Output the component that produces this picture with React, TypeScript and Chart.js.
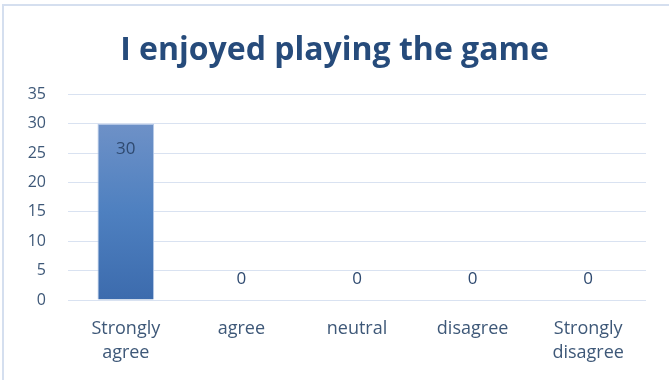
import React, { useEffect, useRef } from "react";
import { Chart, registerables } from "chart.js";

Chart.register(...registerables);

const title = "I enjoyed playing the game";
const categories: string[][] = [
  ["Strongly", "agree"],
  ["agree"],
  ["neutral"],
  ["disagree"],
  ["Strongly", "disagree"],
];
const values: number[] = [30, 0, 0, 0, 0];
const yMax = 35;
const yStep = 5;

const FONT = "'Open Sans', 'DejaVu Sans', sans-serif";
const TEXT = "#3E5878";
const GRID = "#D9E2F1";

const frame = {
  id: "frame",
  beforeDraw(chart: any) {
    const c = chart.ctx;
    c.save();
    c.fillStyle = "#ffffff";
    c.fillRect(0, 0, chart.width, chart.height);
    c.strokeStyle = "#D5DFEF";
    c.lineWidth = 2;
    c.beginPath();
    c.moveTo(3, chart.height);
    c.lineTo(3, 5);
    c.lineTo(chart.width, 5);
    c.stroke();
    c.restore();
  },
};

const dataLabels = {
  id: "dataLabels",
  afterDatasetsDraw(chart: any) {
    const c = chart.ctx;
    const meta = chart.getDatasetMeta(0);
    const ds = chart.data.datasets[0];
    c.save();
    c.font = `17px ${FONT}`;
    c.fillStyle = "#2F4A70";
    c.textAlign = "center";
    c.textBaseline = "middle";
    meta.data.forEach((el: any, i: number) => {
      const v = ds.data[i] as number;
      const y = v > 0 ? el.y + 25 : el.base - 21;
      c.fillText(String(v), el.x, y);
    });
    c.restore();
  },
};

export default function App() {
  const ref = useRef<HTMLCanvasElement | null>(null);
  useEffect(() => {
    if (!ref.current) return;
    const chart = new Chart(ref.current, {
      type: "bar",
      data: {
        labels: categories,
        datasets: [
          {
            data: values,
            backgroundColor: (ctx: any) => {
              const ch = ctx.chart;
              const ys = ch.scales?.y;
              if (!ys) return "#4F7FBF";
              const top = ys.getPixelForValue(Math.max(...values));
              const bot = ys.getPixelForValue(0);
              if (!isFinite(top) || !isFinite(bot) || top === bot) return "#4F7FBF";
              const g = ch.ctx.createLinearGradient(0, top, 0, bot);
              g.addColorStop(0, "#6E91C7");
              g.addColorStop(0.5, "#4E80C0");
              g.addColorStop(1, "#3C6BAD");
              return g;
            },
            borderColor: "#B9CCEA",
            borderWidth: 1,
            barPercentage: 0.49,
            categoryPercentage: 1,
          },
        ],
      },
      options: {
        animation: false,
        responsive: false,
        layout: { padding: 0 },
        plugins: {
          legend: { display: false },
          tooltip: { enabled: false },
          title: {
            display: true,
            text: title,
            color: "#264B7B",
            font: { family: FONT, size: 32, weight: "bold" },
            padding: { top: 32, bottom: 24 },
          },
        },
        scales: {
          x: {
            grid: { display: false, drawTicks: false },
            border: { display: false },
            ticks: {
              color: TEXT,
              font: { family: FONT, size: 18, lineHeight: 1.33 },
              padding: 17,
              maxRotation: 0,
              autoSkip: false,
            },
            afterFit(s: any) {
              s.height = 80;
            },
          },
          y: {
            min: 0,
            max: yMax,
            ticks: {
              stepSize: yStep,
              color: TEXT,
              font: { family: FONT, size: 16 },
              padding: 22,
            },
            grid: { color: GRID, lineWidth: 1, drawTicks: false },
            border: { display: false },
            afterFit(s: any) {
              s.width = 68;
            },
          },
          yRight: {
            type: "linear",
            position: "right",
            min: 0,
            max: 1,
            grid: { display: false, drawTicks: false },
            border: { display: false },
            ticks: { display: false },
            afterFit(s: any) {
              s.width = 23;
            },
          },
        },
      },
      plugins: [frame, dataLabels],
    });
    return () => chart.destroy();
  }, []);
  return (
    <div style={{ position: "absolute", left: 0, top: 0, width: 669, height: 380 }}>
      <canvas ref={ref} width={669} height={380} style={{ display: "block" }} />
    </div>
  );
}
